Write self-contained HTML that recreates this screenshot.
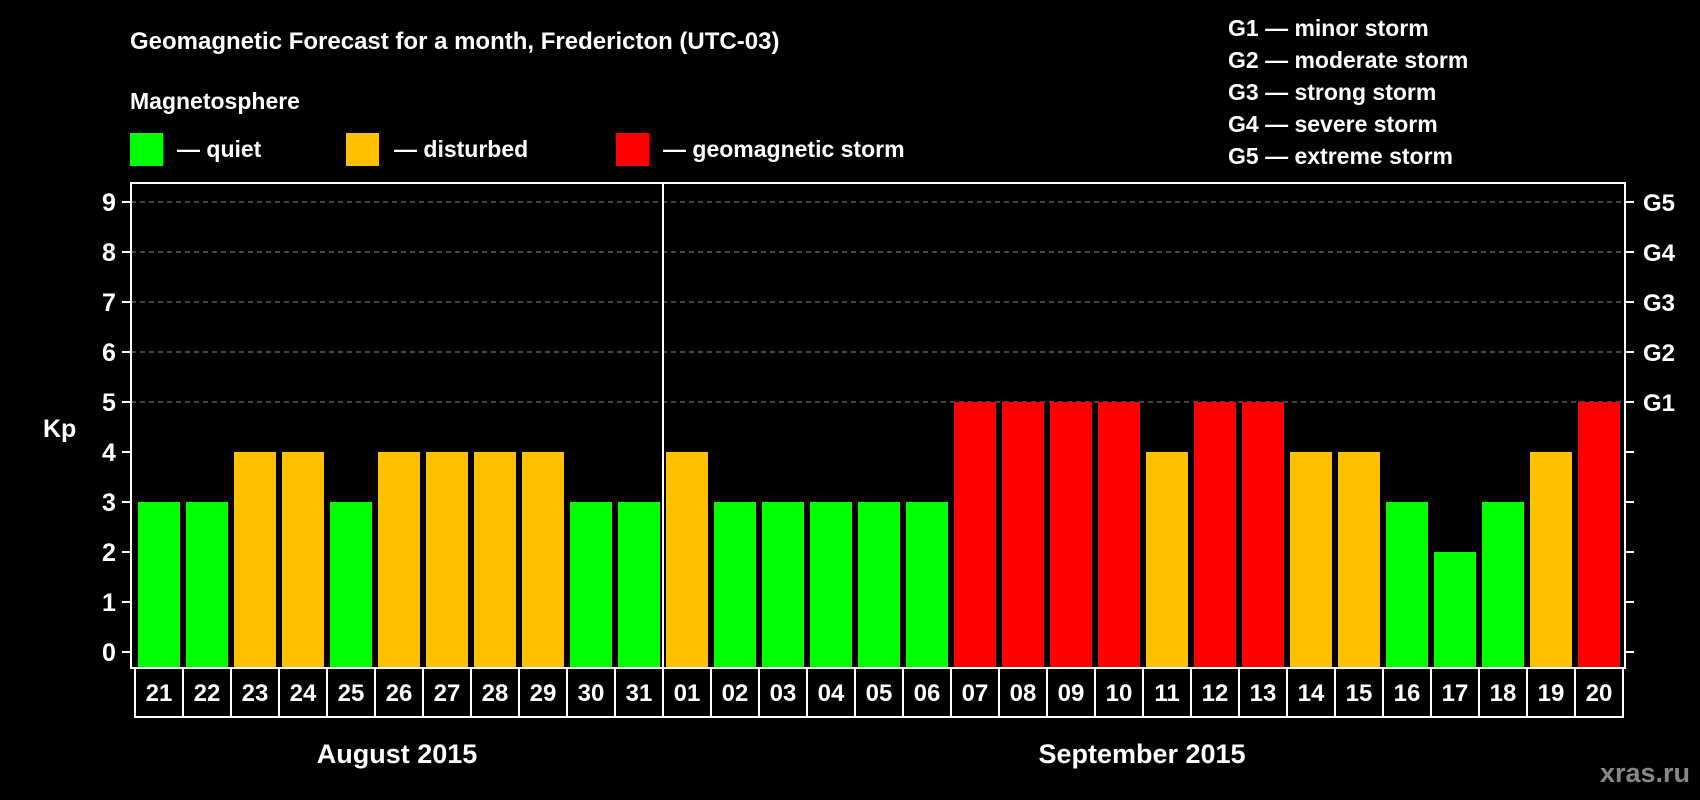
<!DOCTYPE html>
<html><head><meta charset="utf-8"><style>
html,body{margin:0;padding:0;background:#000;}
svg{display:block;font-family:"Liberation Sans",Arial,sans-serif;font-weight:bold;}
</style></head><body>
<svg id="chart" width="1700" height="800" viewBox="0 0 1700 800" xmlns="http://www.w3.org/2000/svg">
<rect width="1700" height="800" fill="#000"/>
<text x="130" y="49" fill="#fff" font-size="24">Geomagnetic Forecast for a month, Fredericton (UTC-03)</text>
<text x="130" y="109" fill="#fff" font-size="23">Magnetosphere</text>
<rect x="130" y="133" width="33" height="33" fill="#00ff00"/>
<text x="177" y="157" fill="#fff" font-size="23">— quiet</text>
<rect x="346" y="133" width="33" height="33" fill="#ffc000"/>
<text x="394" y="157" fill="#fff" font-size="23">— disturbed</text>
<rect x="616" y="133" width="33" height="33" fill="#ff0000"/>
<text x="663" y="157" fill="#fff" font-size="23">— geomagnetic storm</text>
<g font-size="23" fill="#fff">
<text x="1228" y="36">G1 — minor storm</text>
<text x="1228" y="68">G2 — moderate storm</text>
<text x="1228" y="100">G3 — strong storm</text>
<text x="1228" y="132">G4 — severe storm</text>
<text x="1228" y="164">G5 — extreme storm</text>
</g>
<text x="43" y="437" fill="#fff" font-size="25">Kp</text>
<g id="plot"></g>
<text x="397" y="763" fill="#fff" font-size="27" text-anchor="middle">August 2015</text>
<text x="1142" y="763" fill="#fff" font-size="27" text-anchor="middle">September 2015</text>
<text x="1690" y="782" fill="#888" font-size="27" text-anchor="end">xras.ru</text>
</svg>
<script>
const days = ["21","22","23","24","25","26","27","28","29","30","31","01","02","03","04","05","06","07","08","09","10","11","12","13","14","15","16","17","18","19","20"];
const kpValues = [3,3,4,4,3,4,4,4,4,3,3,4,3,3,3,3,3,5,5,5,5,4,5,5,4,4,3,2,3,4,5];
const yTicks = [0,1,2,3,4,5,6,7,8,9];
const gLabels = ["G1","G2","G3","G4","G5"];
const gLevels = [5,6,7,8,9];

const NS = "http://www.w3.org/2000/svg";
const g = document.getElementById("plot");
const plotL = 131, plotR = 1625, plotT = 183, plotB = 668;
const cellX0 = 135, cellW = 48, cellT = 668, cellB = 717;
function y(v){ return 652 - 50 * v; }
function x(i){ return cellX0 + cellW * i; }
function mk(tag, attrs){ const e = document.createElementNS(NS, tag); for (const k in attrs) e.setAttribute(k, attrs[k]); g.appendChild(e); return e; }
function color(v){ return v >= 5 ? "#ff0000" : (v >= 4 ? "#ffc000" : "#00ff00"); }

gLevels.forEach((lv, i) => {
  const l = mk("line", {x1: plotL, x2: plotR, y1: y(lv), y2: y(lv), stroke: "#888", "stroke-width": 1, "stroke-dasharray": "5,4"});
  
  
  const t = mk("text", {x: 1643, y: y(lv) + 9, fill: "#fff", "font-size": 24});
  t.textContent = gLabels[i];
  
  
});

kpValues.forEach((v, i) => {
  const r = mk("rect", {x: x(i) + 3, y: y(v), width: 42, height: plotB - y(v), fill: color(v)});
  
  
});

yTicks.forEach(v => {
  const l = mk("line", {x1: 122, x2: plotL, y1: y(v), y2: y(v), stroke: "#fff", "stroke-width": 2});
  
  
  const r = mk("line", {x1: plotR, x2: 1634, y1: y(v), y2: y(v), stroke: "#fff", "stroke-width": 2});
  
  
  const t = mk("text", {x: 109, y: y(v) + 9, fill: "#fff", "font-size": 25, "text-anchor": "middle"});
  t.textContent = v;
  
  
});

const frame = mk("rect", {x: plotL, y: plotT, width: plotR - plotL, height: plotB - plotT, fill: "none", stroke: "#fff", "stroke-width": 2});



const sepIdx = days.indexOf("01");
const sep = mk("line", {x1: x(sepIdx), x2: x(sepIdx), y1: plotT, y2: plotB, stroke: "#fff", "stroke-width": 2});



days.forEach((d, i) => {
  const c = mk("rect", {x: x(i), y: cellT, width: cellW, height: cellB - cellT, fill: "#000", stroke: "#fff", "stroke-width": 2});
  
  
  const t = mk("text", {x: x(i) + cellW / 2, y: 701, fill: "#fff", "font-size": 24, "text-anchor": "middle"});
  t.textContent = d;
  
  
});
</script>
</body></html>
